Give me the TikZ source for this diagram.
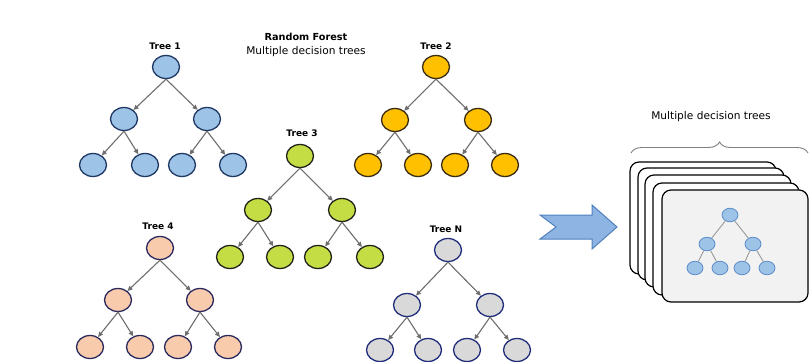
\documentclass[tikz,border=0pt]{standalone}
\usepackage{fontspec}
\setmainfont{DejaVu Sans}
\usetikzlibrary{arrows.meta,shapes.geometric,decorations.pathreplacing}
\definecolor{bluefill}{HTML}{9DC3E6}
\definecolor{blueline}{HTML}{1F3864}
\definecolor{orfill}{HTML}{FFC000}
\definecolor{orline}{HTML}{3A2C10}
\definecolor{grfill}{HTML}{C4DD45}
\definecolor{grline}{HTML}{1E2418}
\definecolor{pkfill}{HTML}{F8CBAD}
\definecolor{pkline}{HTML}{2B2A5E}
\definecolor{gyfill}{HTML}{D9D9D9}
\definecolor{gyline}{HTML}{1F2D7A}
\definecolor{edgegray}{HTML}{6E6E6E}
\definecolor{arrfill}{HTML}{8EB4E3}
\definecolor{arrline}{HTML}{4F81BD}
\definecolor{minifill}{HTML}{9DC3E6}
\definecolor{miniline}{HTML}{5B8CC8}
\newcommand\drawtree[9]{%
  \node[#2] (#1r) at (#3) {};
  \node[#2] (#1a) at (#4) {};
  \node[#2] (#1b) at (#5) {};
  \node[#2] (#1c) at (#6) {};
  \node[#2] (#1d) at (#7) {};
  \node[#2] (#1e) at (#8) {};
  \node[#2] (#1f) at (#9) {};
  \draw[edge] (#1r.south) -- (#1a);
  \draw[edge] (#1r.south) -- (#1b);
  \draw[edge] (#1a.south) -- (#1c);
  \draw[edge] (#1a.south) -- (#1d);
  \draw[edge] (#1b.south) -- (#1e);
  \draw[edge] (#1b.south) -- (#1f);
}
\begin{document}
\begin{tikzpicture}[x=1pt,y=-1pt,
  tnode/.style={ellipse,minimum width=27pt,minimum height=23pt,inner sep=0pt,line width=1.3pt},
  t1/.style={tnode,fill=bluefill,draw=blueline},
  t2/.style={tnode,fill=orfill,draw=orline},
  t3/.style={tnode,fill=grfill,draw=grline},
  t4/.style={tnode,fill=pkfill,draw=pkline},
  tN/.style={tnode,fill=gyfill,draw=gyline},
  edge/.style={draw=edgegray,line width=1.1pt,-{Triangle[length=5pt,width=4.5pt]}},
  lbl/.style={font=\fontsize{9}{11}\selectfont\bfseries},
  card/.style={draw=black,line width=1.2pt,rounded corners=9pt,fill=white,minimum width=146pt,minimum height=112pt,inner sep=0pt},
  mini/.style={ellipse,minimum width=16pt,minimum height=13.5pt,inner sep=0pt,fill=minifill,draw=miniline,line width=0.8pt},
  miniedge/.style={draw=gray!80,line width=0.9pt}]
\useasboundingbox[fill=white] (0,0) rectangle (810,361);
\clip (0,0) rectangle (810,361);

% titles
\node[font=\fontsize{9.7}{12}\selectfont\bfseries] (title) at (306,37) {Random Forest};
\node[font=\fontsize{10.6}{12}\selectfont] (subtitle) at (306,52) {Multiple decision trees};

% tree labels
\node[lbl] (l1) at (165,46) {Tree 1};
\node[lbl] (l2) at (436,46) {Tree 2};
\node[lbl] (l3) at (302,133) {Tree 3};
\node[lbl] (l4) at (158,226) {Tree 4};
\node[lbl] (lN) at (446,229) {Tree N};

\drawtree{a}{t1}{166,67}{124,119}{207,119}{93,165}{145,165}{182,165}{233,165}
\drawtree{b}{t2}{436,67}{395,120}{478,120}{368,165}{418,165}{455,165}{505,165}
\drawtree{c}{t3}{300,156}{258,210}{342,210}{230,257}{280,257}{318,257}{370,257}
\drawtree{d}{t4}{160,248}{118,300}{200,300}{90,347}{140,347}{178,347}{228,347}
\drawtree{e}{tN}{448,250}{407,305}{490,305}{380,350}{428,350}{467,350}{517,350}

% big arrow
\draw[fill=arrfill,draw=arrline,line width=1pt,line join=miter]
  (540,215) -- (592,215) -- (592,205) -- (617,227) -- (592,249) -- (592,239) -- (540,239) -- (556,227) -- cycle;

% brace
\draw[gray,line width=0.9pt,decorate,decoration={brace,amplitude=11pt,aspect=0.5}]
  (631,153) -- (808,153);
\node[font=\fontsize{10.6}{12}\selectfont] (bl) at (711,117) {Multiple decision trees};

% stacked cards
\node[card] (k1) at (703,218) {};
\node[card] (k2) at (711,224) {};
\node[card] (k3) at (718,231) {};
\node[card] (k4) at (726,239) {};
\node[card,fill=black!5] (k5) at (735,246) {};

% mini tree
\node[mini] (m0) at (730,215) {};
\node[mini] (m1) at (707,244) {};
\node[mini] (m2) at (753,244) {};
\node[mini] (m3) at (695,268) {};
\node[mini] (m4) at (720,268) {};
\node[mini] (m5) at (742,268) {};
\node[mini] (m6) at (767,268) {};
\draw[miniedge] (m0) -- (m1);
\draw[miniedge] (m0) -- (m2);
\draw[miniedge] (m1) -- (m3);
\draw[miniedge] (m1) -- (m4);
\draw[miniedge] (m2) -- (m5);
\draw[miniedge] (m2) -- (m6);
\end{tikzpicture}
\end{document}
